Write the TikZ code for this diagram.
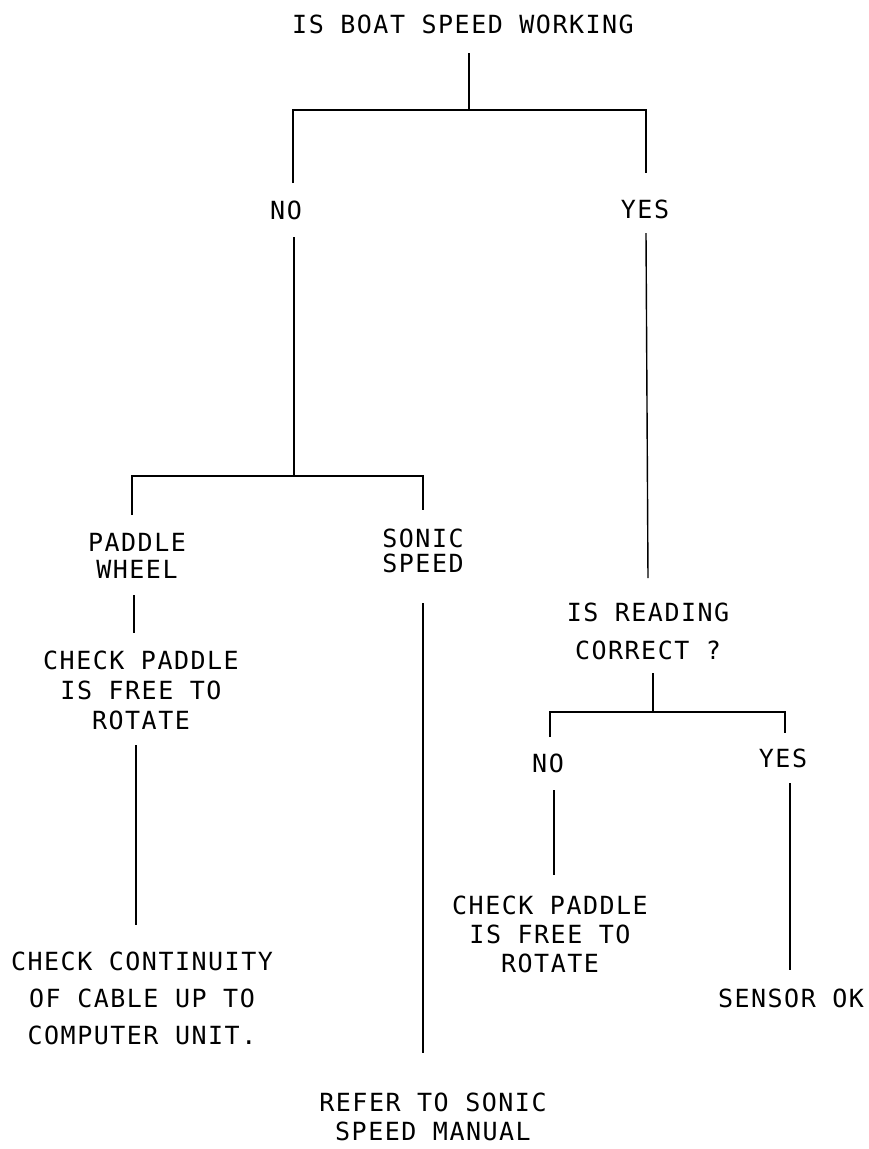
\documentclass[tikz,border=0pt]{standalone}
\usepackage{fontspec}
\usepackage{tikz}
\newfontfamily\plotfont[LetterSpace=6]{DejaVu Sans Mono}
\newcommand{\pf}[1]{\fontsize{25}{#1}\selectfont\plotfont}
\tikzstyle{txt} = [font=\pf{30}, align=center, inner sep=0pt]
\tikzstyle{wire} = [line width=1.4pt]

\begin{document}
\begin{tikzpicture}[x=1pt, y=-1pt]
			\useasboundingbox (0,0) rectangle (868,1149);
			% questions and answers
			\node[txt] (q1) at (463, 24) {IS BOAT SPEED WORKING};
			\node[txt] (no1) at (286, 210) {NO};
			\node[txt] (yes1) at (645, 209) {YES};
			\node[txt, font=\pf{27}] (pw) at (137, 556) {PADDLE\\WHEEL};
			\node[txt, font=\pf{25}] (ss) at (423, 551) {SONIC\\SPEED};
			\node[txt] (cp1) at (141, 690) {CHECK PADDLE\\IS FREE TO\\ROTATE};
			\node[txt, font=\pf{38}] (q2) at (648, 631) {IS READING\\CORRECT ?};
			\node[txt] (no2) at (548, 763) {NO};
			\node[txt] (yes2) at (783, 758) {YES};
			\node[txt, font=\pf{29}] (cp2) at (550, 934) {CHECK PADDLE\\IS FREE TO\\ROTATE};
			\node[txt, font=\pf{37}] (cc) at (142, 998) {CHECK CONTINUITY\\OF CABLE UP TO\\COMPUTER UNIT.};
			\node[txt] (ok) at (791, 998) {SENSOR OK};
			\node[txt, font=\pf{29}] (ref) at (433, 1117) {REFER TO SONIC\\SPEED MANUAL};
			% line ends
			\coordinate (q1b) at (469, 53);
			\coordinate (j1) at (469, 110);
			\coordinate (no1t) at (293, 183);
			\coordinate (yes1t) at (646, 173);
			\coordinate (no1b) at (294, 237);
			\coordinate (j2) at (294, 476);
			\coordinate (pwt) at (132, 515);
			\coordinate (sst) at (423, 510);
			\coordinate (pwb) at (134, 595);
			\coordinate (cp1t) at (134, 633);
			\coordinate (cp1b) at (136, 745);
			\coordinate (cct) at (136, 925);
			\coordinate (ssb) at (423, 603);
			\coordinate (reft) at (423, 1053);
			\coordinate (yes1b) at (646, 233);
			\coordinate (q2t) at (648, 578);
			\coordinate (q2b) at (653, 673);
			\coordinate (j3) at (653, 712);
			\coordinate (no2t) at (550, 737);
			\coordinate (yes2t) at (785, 733);
			\coordinate (no2b) at (554, 790);
			\coordinate (cp2t) at (554, 875);
			\coordinate (yes2b) at (790, 783);
			\coordinate (okt) at (790, 970);
			% connectors
			\draw[wire] (q1b) -- (j1);
			\draw[wire] (no1t) |- (j1) -| (yes1t);
			\draw[wire] (no1b) -- (j2);
			\draw[wire] (pwt) |- (j2) -| (sst);
			\draw[wire] (pwb) -- (cp1t);
			\draw[wire] (cp1b) -- (cct);
			\draw[wire] (ssb) -- (reft);
			\draw[wire] (yes1b) -- (q2t);
			\draw[wire] (q2b) -- (j3);
			\draw[wire] (no2t) |- (j3) -| (yes2t);
			\draw[wire] (no2b) -- (cp2t);
			\draw[wire] (yes2b) -- (okt);
		\end{tikzpicture}
\end{document}
